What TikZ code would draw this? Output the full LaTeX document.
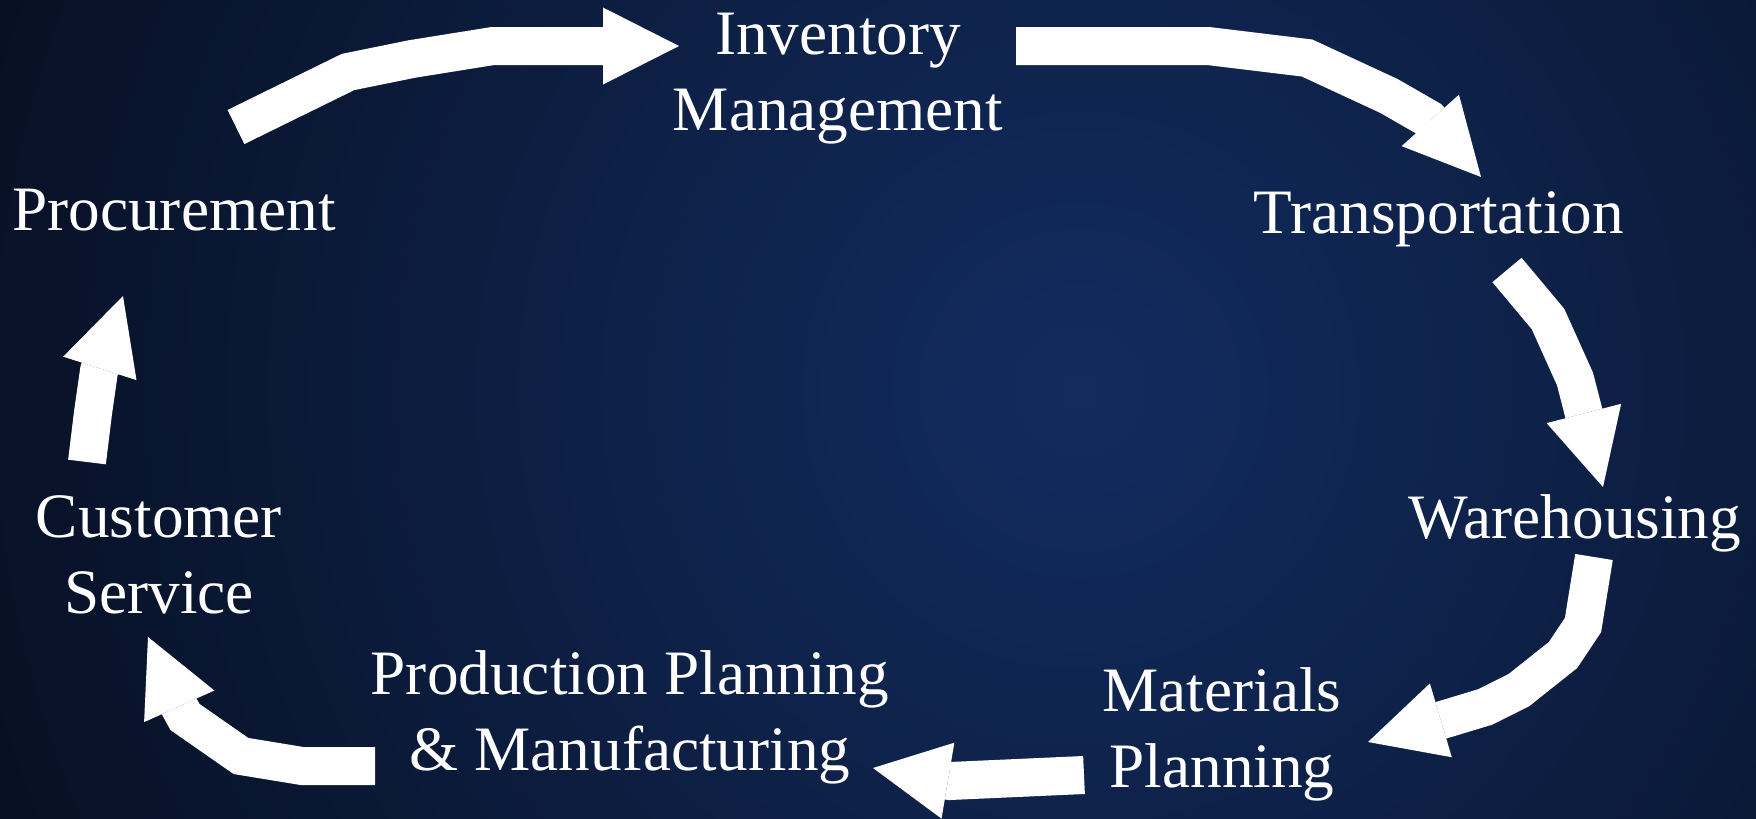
\documentclass[tikz,border=0pt]{standalone}
\usepackage{fontspec}
\setmainfont{Liberation Serif}
\usetikzlibrary{arrows.meta}

\definecolor{bgcenter}{RGB}{18,44,96}
\definecolor{bgedge}{RGB}{4,8,18}

\tikzset{
  stage/.style={text=white, font=\fontsize{18}{21.6}\selectfont, align=center, inner sep=0pt, anchor=base},
  flowarrow/.style={draw=white, line width=3.8mm, line join=miter,
    -{Triangle[length=7.6mm,width=7.7mm,line width=0pt]}}
}

\begin{document}
\begin{tikzpicture}[x=0.1mm,y=-0.1mm]
        %background
        \useasboundingbox (0,0) rectangle (1756,819);
        \begin{scope}
          \clip (0,0) rectangle (1756,819);
          \shade[inner color=bgcenter, outer color=bgedge] (1080,390) circle (150mm);
        \end{scope}

        %stages of the cycle (base = last line)
        \node[stage] (inv) at (838,130) {Inventory\\Management};
        \node[stage] (proc) at (174,230) {Procurement};
        \node[stage] (trans) at (1439,233) {Transportation};
        \node[stage] (ware) at (1575,538) {Warehousing};
        \node[stage] (cust) at (159,613) {Customer\\Service};
        \node[stage] (prod) at (630,770) {Production Planning\\\& Manufacturing};
        \node[stage] (mat) at (1222,787) {Materials\\Planning};

        %arrow ends
        \coordinate (procout) at (236,127);
        \coordinate (invin) at (679,46);
        \coordinate (invout) at (1016,46);
        \coordinate (transin) at (1481,177);
        \coordinate (transout) at (1507,270);
        \coordinate (warein) at (1603,487);
        \coordinate (wareout) at (1594,557);
        \coordinate (matin) at (1368,742);
        \coordinate (matout) at (1084,775);
        \coordinate (prodin) at (873,768);
        \coordinate (prodout) at (375,766);
        \coordinate (custin) at (148,637);
        \coordinate (custout) at (87,462);
        \coordinate (procin) at (123,296);

        %arrows
        \draw[flowarrow] (procout) -- (348,72) -- (412,59) -- (493,46) -- (invin);
        \draw[flowarrow] (invout) -- (1208,46) -- (1307,58) -- (1389,96) -- (1429,119) -- (transin);
        \draw[flowarrow] (transout) -- (1548,319) -- (1575,379) -- (1583,410) -- (warein);
        \draw[flowarrow] (wareout) -- (1583,625) -- (1563,655) -- (1519,690) -- (1485,707) -- (1442,720) -- (matin);
        \draw[flowarrow] (matout) -- (950,781) -- (prodin);
        \draw[flowarrow] (prodout) -- (302,766) -- (241,756) -- (185,717) -- (180,708) -- (custin);
        \draw[flowarrow] (custout) -- (93,413) -- (99,371) -- (procin);
\end{tikzpicture}
\end{document}
